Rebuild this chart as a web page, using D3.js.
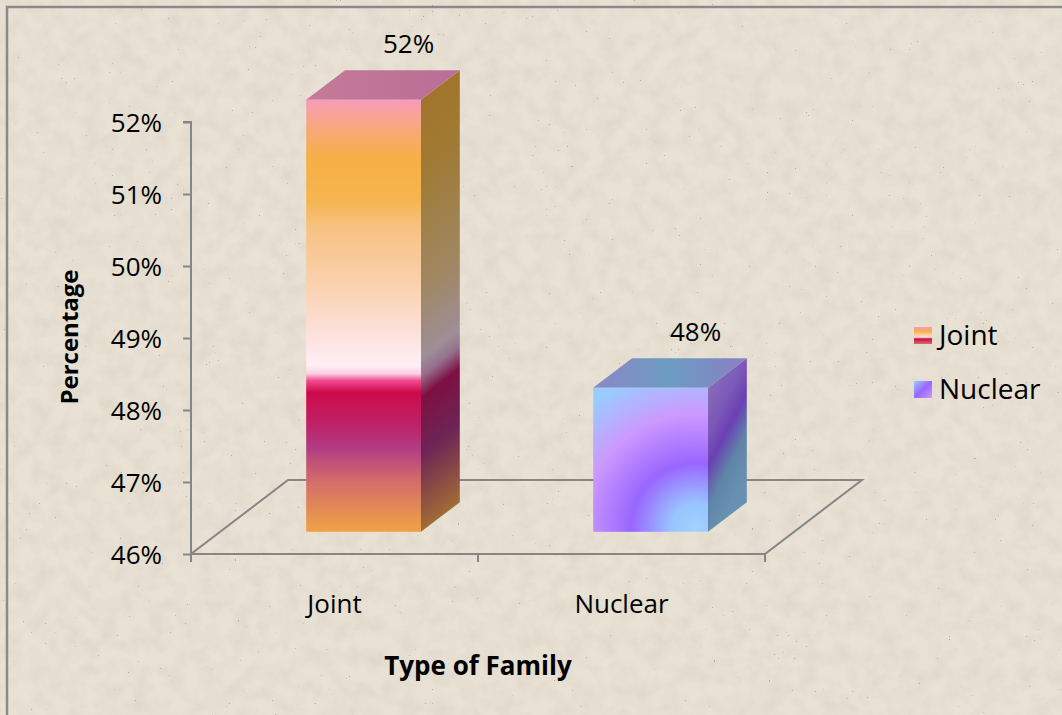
<!DOCTYPE html>
<html>
<head>
<meta charset="utf-8">
<script src="https://cdn.jsdelivr.net/npm/d3@7"></script>
<style>
  body { margin: 0; background: #fff; }
  svg text { font-family: "Open Sans", "DejaVu Sans", sans-serif; fill: #000; }
</style>
</head>
<body>
<svg id="chart" width="1062" height="715"></svg>
<script>
const categories = ["Joint", "Nuclear"];
const values = [52, 48];
const valueLabels = ["52%", "48%"];
const yTicks = [46, 47, 48, 49, 50, 51, 52];

const width = 1062, height = 715;
// floor depth vector and bar placement inside the depth
const DEPTH_X = 97, DEPTH_Y = -74;
const BAR_D0 = 0.3, BAR_D1 = 0.7;
const BAR_FRAC = 0.4;

let svg = d3.select('#chart');
let defs = svg.append('defs');

// paper texture
let f = defs.append('filter').attr('id', 'paper')
  .attr('x', 0).attr('y', 0).attr('width', '100%').attr('height', '100%');
f.append('feTurbulence').attr('type', 'fractalNoise').attr('baseFrequency', 0.06)
  .attr('numOctaves', 4).attr('seed', 7).attr('result', 'n');
f.append('feColorMatrix').attr('in', 'n').attr('type', 'matrix')
  .attr('values', '0 0 0 0 0.55  0 0 0 0 0.50  0 0 0 0 0.42  0.45 0 0 0 -0.16')
  .attr('result', 'shade');
f.append('feTurbulence').attr('type', 'turbulence').attr('baseFrequency', 0.35)
  .attr('numOctaves', 1).attr('seed', 3).attr('result', 't');
f.append('feColorMatrix').attr('in', 't').attr('type', 'matrix')
  .attr('values', '0 0 0 0 0.45  0 0 0 0 0.42  0 0 0 0 0.36  8 0 0 0 -4.7')
  .attr('result', 'dots');
f.append('feMerge').call(m => {
  m.append('feMergeNode').attr('in', 'shade');
  m.append('feMergeNode').attr('in', 'dots');
});

function linGrad(id, stops, x1, y1, x2, y2) {
  let g = defs.append('linearGradient').attr('id', id)
    .attr('x1', x1).attr('y1', y1).attr('x2', x2).attr('y2', y2);
  stops.forEach(s => g.append('stop').attr('offset', s[0]).attr('stop-color', s[1]));
}

linGrad('jointFront', [
  [0, '#f79bbb'], [0.044, '#f8a58e'], [0.136, '#f6b044'], [0.235, '#f6b552'],
  [0.297, '#f7c283'], [0.449, '#fad4b5'], [0.551, '#fde2e0'], [0.615, '#ffeff4'],
  [0.634, '#fbd0e2'], [0.650, '#f24a92'], [0.677, '#cd0a4a'], [0.758, '#be246a'],
  [0.804, '#b13c84'], [0.887, '#d46f68'], [1, '#f0a245']
], 0, 0, 0, 1);
linGrad('jointSide', [
  [0, '#a2742c'], [0.15, '#a07a32'], [0.45, '#a08866'], [0.6, '#9e8e98'],
  [0.64, '#94708c'], [0.69, '#7e1042'], [0.82, '#6e2456'], [1, '#a06c36']
], 0, 0, 0, 1);
linGrad('jointTop', [[0, '#c47a98'], [1, '#bb6e96']], 0, 0, 1, 0);
linGrad('nucSide', [
  [0, '#8a6cb8'], [0.3, '#7a58b8'], [0.5, '#6a40b4'], [0.75, '#5f84a8'], [1, '#6890b0']
], 0, 0, 0.3, 1);
linGrad('nucTop', [[0, '#8a88c6'], [0.5, '#6c9cc2'], [1, '#8a80c4']], 0, 0, 1, 0);
linGrad('legJoint', [
  [0, '#f79bbb'], [0.25, '#f6b044'], [0.6, '#fde2e0'], [0.7, '#cd0a4a'], [1, '#d46f68']
], 0, 0, 0, 1);
linGrad('legNuc', [[0, '#99ccff'], [0.5, '#9966ff'], [1, '#cc99ff']], 0, 0, 1, 1);

// background
svg.append('rect').attr('width', width).attr('height', height).attr('fill', '#e8e1d4');
svg.append('rect').attr('width', width).attr('height', height).attr('filter', 'url(#paper)');
svg.append('path').attr('d', `M7,${height} V7 H${width}`)
  .attr('fill', 'none').attr('stroke', '#8a8a8a').attr('stroke-width', 2.5);

let x = d3.scaleBand().domain(categories).range([191, 765]);
let y = d3.scaleLinear().domain([46, 52]).range([554, 122]);
let axisColor = '#868686';

// floor
let y0 = y(46);
svg.append('path')
  .attr('d', `M${x.range()[0]},${y0} H${x.range()[1]} l${DEPTH_X},${DEPTH_Y} H${x.range()[0] + DEPTH_X} Z`)
  .attr('fill', 'none').attr('stroke', axisColor).attr('stroke-width', 2);

// y axis
let yAxis = d3.axisLeft(y).tickValues(yTicks).tickSize(8).tickPadding(21)
  .tickFormat(d => d + '%');
let ya = svg.append('g').attr('transform', 'translate(191,0)').call(yAxis);
ya.select('.domain').attr('stroke', axisColor).attr('stroke-width', 2).attr('d', `M-8,${y(52)} H0 V${y0 + 8}`);
ya.selectAll('.tick line').attr('stroke', axisColor).attr('stroke-width', 2);
ya.selectAll('.tick text').style('font-size', '26px').attr('dy', '0.35em');

// x axis ticks at band edges
let xa = svg.append('g').attr('transform', `translate(0,${y0})`)
  .call(d3.axisBottom(x).tickSize(0).tickPadding(41));
xa.select('.domain').remove();
xa.selectAll('.tick text').style('font-size', '26px');
svg.append('g').selectAll('line')
  .data(categories.map(c => x(c) + x.bandwidth()))
  .enter().append('line')
  .attr('x1', d => d).attr('x2', d => d).attr('y1', y0).attr('y2', y0 + 8)
  .attr('stroke', axisColor).attr('stroke-width', 2);

// bars
let shiftX = DEPTH_X * BAR_D0, shiftY = DEPTH_Y * BAR_D0;
let dx = DEPTH_X * (BAR_D1 - BAR_D0), dy = DEPTH_Y * (BAR_D1 - BAR_D0);
let barW = x.bandwidth() * BAR_FRAC;

let bars = categories.map((c, i) => {
  let fx = x(c) + x.bandwidth() / 2 - barW / 2 + shiftX;
  let top = y(values[i]) + shiftY;
  let bottom = y(46) + shiftY;
  return { c, i, fx, top, bottom };
});

// nuclear front radial gradient
let nb = bars[1];
let rg = defs.append('radialGradient').attr('id', 'nucFront')
  .attr('gradientUnits', 'userSpaceOnUse')
  .attr('cx', nb.fx + barW - 12).attr('cy', nb.bottom - 4).attr('r', 190);
[[0, '#a0d2ff'], [0.13, '#99c4ff'], [0.34, '#9966ff'], [0.6, '#cc99ff'], [0.85, '#99ccff'], [1, '#a8c8ff']]
  .forEach(s => rg.append('stop').attr('offset', s[0]).attr('stop-color', s[1]));

let fills = [
  { front: 'url(#jointFront)', side: 'url(#jointSide)', top: 'url(#jointTop)' },
  { front: 'url(#nucFront)', side: 'url(#nucSide)', top: 'url(#nucTop)' }
];

let g = svg.append('g').selectAll('g').data(bars).enter().append('g');

g.append('rect')
  .attr('width', dx).attr('height', d => d.bottom - d.top)
  .attr('transform', d => `matrix(1,${dy / dx},0,1,${d.fx + barW},${d.top})`)
  .attr('fill', d => fills[d.i].side);

g.append('path')
  .attr('d', d => `M${d.fx},${d.top} l${dx},${dy} h${barW} l${-dx},${-dy} Z`)
  .attr('fill', d => fills[d.i].top);

g.append('rect')
  .attr('x', d => d.fx).attr('y', d => d.top)
  .attr('width', barW).attr('height', d => d.bottom - d.top)
  .attr('fill', d => fills[d.i].front);

g.append('text')
  .attr('x', d => d.fx + barW / 2 + 45)
  .attr('y', d => d.top - 47)
  .attr('text-anchor', 'middle')
  .style('font-size', '26px')
  .text(d => valueLabels[d.i]);

// axis titles
svg.append('text')
  .attr('transform', 'translate(78,337) rotate(-90)')
  .attr('text-anchor', 'middle')
  .style('font-size', '24px').style('font-weight', 'bold')
  .text('Percentage');
svg.append('text')
  .attr('x', 478).attr('y', 675)
  .attr('text-anchor', 'middle')
  .style('font-size', '26px').style('font-weight', 'bold')
  .text('Type of Family');

// legend
let legend = svg.append('g').attr('transform', 'translate(914,327)')
  .selectAll('g').data(categories).enter().append('g')
  .attr('transform', (d, i) => `translate(0,${i * 54})`);
legend.append('rect').attr('width', 18).attr('height', 17)
  .attr('fill', (d, i) => i === 0 ? 'url(#legJoint)' : 'url(#legNuc)');
legend.append('text').attr('x', 25).attr('y', 18)
  .style('font-size', '28px')
  .text(d => d);
</script>
</body>
</html>
